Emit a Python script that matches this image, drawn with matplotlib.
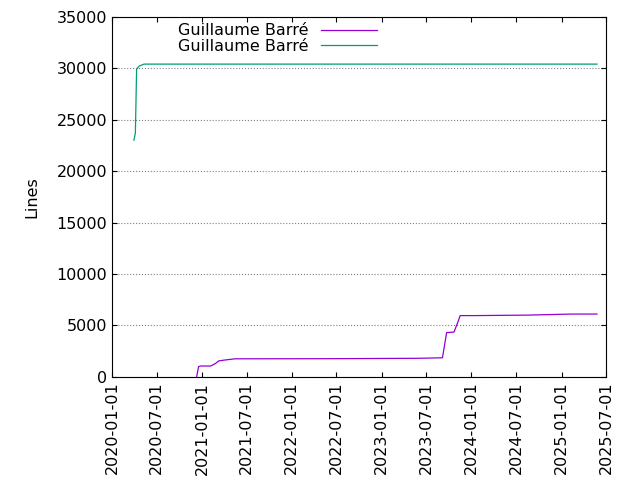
import numpy as np
import matplotlib
matplotlib.use("Agg")
import matplotlib.pyplot as plt
import matplotlib.dates as mdates

# series 1 (purple)
p_dates = ["2020-12-10", "2020-12-18", "2020-12-28", "2021-02-05", "2021-02-25",
           "2021-03-10", "2021-04-10", "2021-05-15", "2022-06-01", "2023-06-01",
           "2023-09-05", "2023-09-22", "2023-10-22", "2023-11-08", "2023-11-16",
           "2024-01-15", "2024-08-20", "2025-02-10", "2025-05-25"]
p_lines = [0, 1000, 1050, 1050, 1300, 1550, 1650, 1750, 1760, 1800,
           1850, 4300, 4350, 5400, 5950, 5950, 6000, 6100, 6100]

# series 2 (green)
g_dates = ["2020-03-30", "2020-04-05", "2020-04-10", "2020-04-20", "2020-05-10", "2025-05-25"]
g_lines = [23000, 23700, 29900, 30200, 30400, 30400]

p_x = np.array(p_dates, dtype="datetime64[D]")
g_x = np.array(g_dates, dtype="datetime64[D]")

fig, ax = plt.subplots(figsize=(6.4, 4.8), dpi=100)
fig.subplots_adjust(left=0.175, right=0.947, top=0.965, bottom=0.215)

ax.plot(p_x, p_lines, color="#9400d3", lw=0.9, label="Guillaume Barré")
ax.plot(g_x, g_lines, color="#009e73", lw=0.9, label="Guillaume Barré")

ax.set_xlim(np.datetime64("2020-01-01"), np.datetime64("2025-07-01"))
ax.set_ylim(0, 35000)
ax.set_yticks(range(0, 35001, 5000))
ticks = [np.datetime64(f"{y}-{m}-01") for y in range(2020, 2026) for m in ("01", "07")]
ax.set_xticks(ticks)
ax.xaxis.set_major_formatter(mdates.DateFormatter("%Y-%m-%d"))
plt.setp(ax.get_xticklabels(), rotation=90, fontsize=11.5)
plt.setp(ax.get_yticklabels(), fontsize=11.5)
ax.tick_params(direction="in", top=True, right=True)
ax.grid(axis="y", color="gray", ls=":", lw=0.8)
ax.set_ylabel("Lines", fontsize=11.5, labelpad=12)

ax.legend(loc="upper left", bbox_to_anchor=(0.12, 1.0), frameon=False,
          markerfirst=False, fontsize=11.5, handlelength=3.5,
          borderaxespad=0, labelspacing=0.05)

fig.savefig("out.png", dpi=100)
